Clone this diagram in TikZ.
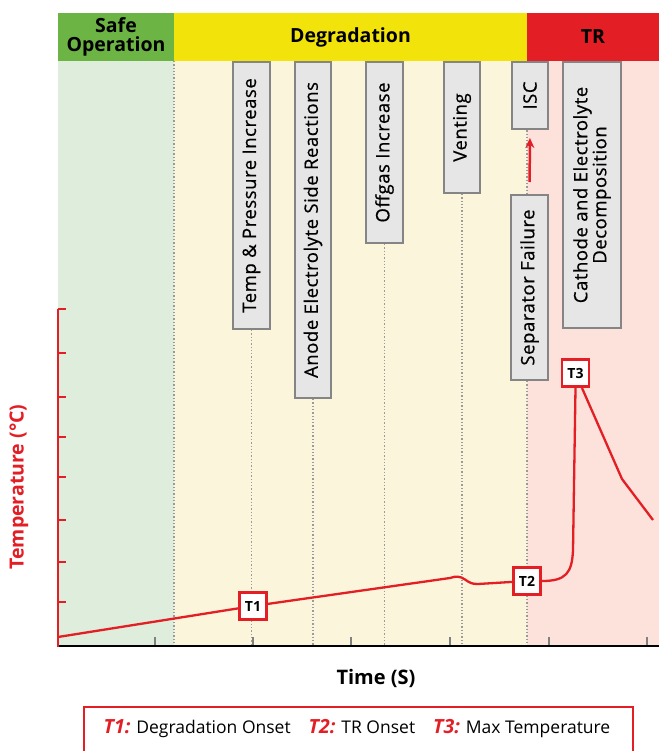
\documentclass[tikz,border=0pt]{standalone}
\usepackage{fontspec}
\setmainfont{Open Sans}
\newfontfamily\boxfont{Open Sans}[LetterSpace=3, FakeBold=0.6]
\usetikzlibrary{arrows.meta}
\definecolor{hdgreen}{HTML}{6CB443}
\definecolor{hdyellow}{HTML}{F2E30A}
\definecolor{hdred}{HTML}{E31E25}
\definecolor{bggreen}{HTML}{DFEDDC}
\definecolor{bgyellow}{HTML}{FBF5DB}
\definecolor{bgpink}{HTML}{FCE2DA}
\definecolor{boxgray}{HTML}{E6E6E6}
\definecolor{boxline}{HTML}{858585}
\definecolor{guidegray}{HTML}{9A9A9A}
\begin{document}
\begin{tikzpicture}[x=1pt,y=-1pt,
  hdr/.style={inner sep=0pt, minimum height=48pt, align=center, font=\bfseries\fontsize{19.5}{19}\selectfont},
  evbox/.style={draw=boxline, fill=boxgray, line width=2pt, rotate=90, inner sep=0pt, align=center, font=\boxfont\fontsize{18.5}{19}\selectfont},
  tbox/.style={draw=hdred, fill=white, line width=2.3pt, minimum size=27pt, inner sep=0pt, font=\bfseries\fontsize{14}{14}\selectfont},
  guide/.style={draw=guidegray, dotted, line width=1.3pt},
  curve/.style={draw=hdred, line width=2.3pt, line join=round},
  ytick/.style={draw=hdred, line width=2pt},
  xtick/.style={draw=gray, line width=1.3pt}]
\useasboundingbox (0,0) rectangle (659,751);
% backgrounds
\fill[bggreen] (58,61) rectangle (174,646);
\fill[bgyellow] (174,61) rectangle (527,646);
\fill[bgpink] (527,61) rectangle (659,646);
% header
\node[hdr, fill=hdgreen, minimum width=116pt] (safe) at (116,37) {Safe\\Operation};
\node[hdr, fill=hdyellow, minimum width=353pt] (degr) at (350.5,37) {Degradation};
\node[hdr, fill=hdred, minimum width=132pt] (tr) at (593,37) {TR};
% axis coordinates
\coordinate (axL) at (58,646);
\coordinate (axR) at (659,646);
% phase boundaries
\draw[guide] (174,61) -- (174,646);
\draw[guide] (527,61) -- (527,646);
% event boxes
\node[evbox, minimum width=267pt, minimum height=37pt] (temp) at (251.5,195.5) {Temp \& Pressure Increase};
\node[evbox, minimum width=336pt, minimum height=36pt] (anode) at (313,230) {Anode Electrolyte Side Reactions};
\node[evbox, minimum width=181pt, minimum height=37pt] (offgas) at (384.5,152.5) {Offgas Increase};
\node[evbox, minimum width=131pt, minimum height=36pt] (vent) at (462,127.5) {Venting};
\node[evbox, minimum width=67pt, minimum height=36pt] (isc) at (530,95.5) {ISC};
\node[evbox, minimum width=185pt, minimum height=37pt] (sep) at (529.5,287.5) {Separator Failure};
\node[evbox, minimum width=266pt, minimum height=58pt] (cath) at (592,195) {Cathode and Electrolyte\\Decomposition};
% guides from boxes to axis
\draw[guide] (temp.west) -- (temp.west |- axL);
\draw[guide] (anode.west) -- (anode.west |- axL);
\draw[guide] (offgas.west) -- (offgas.west |- axL);
\draw[guide] (vent.west) -- (vent.west |- axL);
% arrow separator -> ISC
\draw[draw=hdred, line width=2.5pt, -{Stealth[length=10pt,width=9pt]}, shorten <=12pt, shorten >=8pt] (sep.east) -- (isc.west);
% axes
\draw[xtick] (155,646) -- (155,637);
\draw[xtick] (253,646) -- (253,637);
\draw[xtick] (351,646) -- (351,637);
\draw[xtick] (450,646) -- (450,637);
\draw[xtick] (549,646) -- (549,637);
\draw[xtick] (647,646) -- (647,637);
\draw[black, line width=2.5pt] (57,646) -- (axR);
\draw[hdred, line width=2.5pt] (58,309) -- (58,647);
\foreach \yy in {309,353,397,437,477,520,562,602}
  \draw[ytick] (58,\yy) -- (66,\yy);
% curve
\coordinate (c0) at (58,637);
\coordinate (p1) at (253,606);
\coordinate (p2) at (527,581);
\coordinate (t3a) at (575.5,388);
\coordinate (t3b) at (582,388);
\draw[curve] (c0) -- (p1) -- (450,578) .. controls (456,576) and (460,576) .. (465,579.5) .. controls (470,583) and (472,584) .. (478,584) -- (p2) -- (542,581) .. controls (566,581) and (572,573) .. (573,550) -- (t3a);
\draw[curve] (t3b) -- (622,479) -- (653,520);
\node[tbox] (T1) at (p1) {T1};
\node[tbox] (T2) at (p2) {T2};
\node[tbox] (T3) at (575.5,373) {T3};
% labels
\node[rotate=90, text=hdred, font=\bfseries\fontsize{19.5}{20}\selectfont] (ylab) at (19,487) {Temperature (°C)};
\node[font=\bfseries\fontsize{20}{20}\selectfont] (xlab) at (376,678) {Time (S)};
% legend
\node[draw=hdred, line width=2pt, minimum width=549pt, minimum height=48pt, inner sep=0pt] (legend) at (358,731) {};
\node[font=\fontsize{17.5}{18}\selectfont] (legtext) at (357,729) {{\color{hdred}\bfseries\itshape\fontsize{19.5}{20}\selectfont T1:} Degradation Onset\hspace{18pt}{\color{hdred}\bfseries\itshape\fontsize{19.5}{20}\selectfont T2:} TR Onset\hspace{18pt}{\color{hdred}\bfseries\itshape\fontsize{19.5}{20}\selectfont T3:} Max Temperature};
\end{tikzpicture}
\end{document}
